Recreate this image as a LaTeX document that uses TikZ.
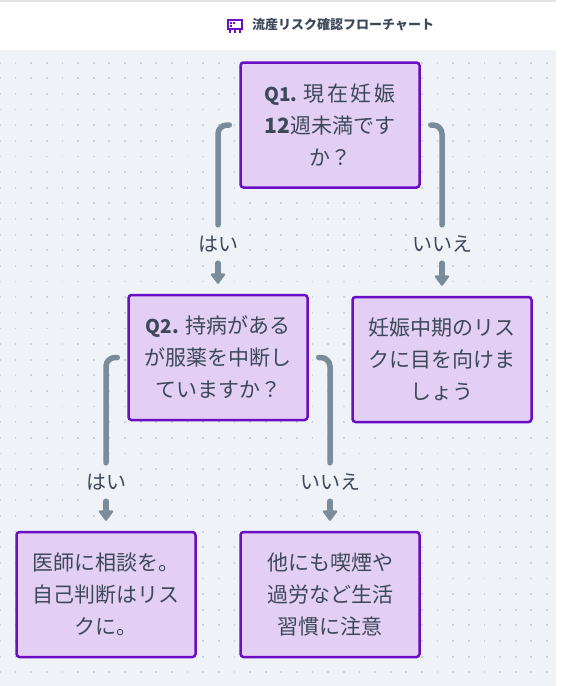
\documentclass[tikz,border=0pt]{standalone}
\usepackage{fontspec}
\setmainfont{Noto Sans CJK JP}
\usepackage{xcolor}
\usetikzlibrary{arrows.meta}
\definecolor{accPurple}{RGB}{106, 13, 196}
\definecolor{bgPurple}{RGB}{226, 207, 243}
\definecolor{bgPanel}{RGB}{239, 243, 247}
\definecolor{dotGray}{RGB}{200, 210, 226}
\definecolor{lineGray}{RGB}{122, 139, 153}
\definecolor{txtSlate}{RGB}{61, 72, 90}
\newcommand{\qtag}[1]{{\fontsize{19}{32}\selectfont\bfseries #1}}
\begin{document}
\begin{tikzpicture}[
        x=1pt, y=-1pt,
        font=\fontsize{21}{32}\selectfont\color{txtSlate},
        blk/.style={rectangle, rounded corners=3pt, draw=accPurple, line width=2.5pt, minimum width=179pt,
            minimum height=125pt, text width=165pt, align=center, fill=bgPurple},
        lbl/.style={font=\fontsize{20}{32}\selectfont\color{txtSlate}, fill=bgPanel, minimum height=38pt,
            inner ysep=0pt, inner xsep=1pt},
        lnk/.style={line width=5.5pt, lineGray, line cap=round, rounded corners=9pt, shorten <=10pt},
        arr/.style={-{Triangle[length=11pt, width=16pt, round, line width=2pt]}, line width=5.5pt, lineGray,
            line cap=round, shorten >=10pt}
    ]
    \useasboundingbox (0,0) rectangle (584,686);
    \fill[white] (0,0) rectangle (584,686);
    \fill[bgPanel] (0,50) rectangle (556,686);
    \draw[line width=2pt, black!11] (0,1) -- (556,1);
    \foreach \i in {0,...,35}
        \foreach \j in {0,...,39}
            \fill[dotGray] (547-15.63*\i-0.9,62.7+15.63*\j-0.9) rectangle ++(1.8,1.8);

    \fill[accPurple] (227,19) rectangle (243,30);
    \fill[white] (229,21) rectangle (241,28);
    \fill[accPurple] (230,22) rectangle (232,24);
    \fill[accPurple] (233,22) rectangle (235,24);
    \fill[accPurple] (230,25) rectangle (232,27);
    \foreach \k in {230,235,240}
        \fill[accPurple] (\k-1,30) rectangle ++(2,3);
    \node[font=\fontsize{13}{17}\selectfont\bfseries\color{txtSlate}, anchor=west, inner sep=0pt] (title) at (252,25) {流産リスク確認フローチャート};

    \node[blk] (q1) at (330,125) {\qtag{Q1.}\kern6pt 現\kern2.7pt 在\kern2.7pt 妊\kern2.7pt 娠\\{\bfseries 12}週未満です\\か？};
    \node[blk] (q2) at (218,357.5) {\qtag{Q2.}\kern6pt 持病がある\\が服薬を中断し\\ていますか？};
    \node[blk] (mid) at (442,359.5) {妊娠中期のリス\\クに目を向けま\\しょう};
    \node[blk] (doc) at (106,594.5) {医師に相談を。\\自己判断はリス\\クに。};
    \node[blk] (life) at (330,594.5) {他にも喫煙や\\過労など生活\\習慣に注意};

    \node[lbl] (yes1) at (218,244) {はい};
    \node[lbl] (no1) at (442,244) {いいえ};
    \node[lbl] (yes2) at (106,482) {はい};
    \node[lbl] (no2) at (330,482) {いいえ};

    \draw[lnk] (q1.west) -| (yes1.north);
    \draw[arr] (yes1.south) -- (q2.north);
    \draw[lnk] (q1.east) -| (no1.north);
    \draw[arr] (no1.south) -- (mid.north);
    \draw[lnk] (q2.west) -| (yes2.north);
    \draw[arr] (yes2.south) -- (doc.north);
    \draw[lnk] (q2.east) -| (no2.north);
    \draw[arr] (no2.south) -- (life.north);
    \end{tikzpicture}
\end{document}
